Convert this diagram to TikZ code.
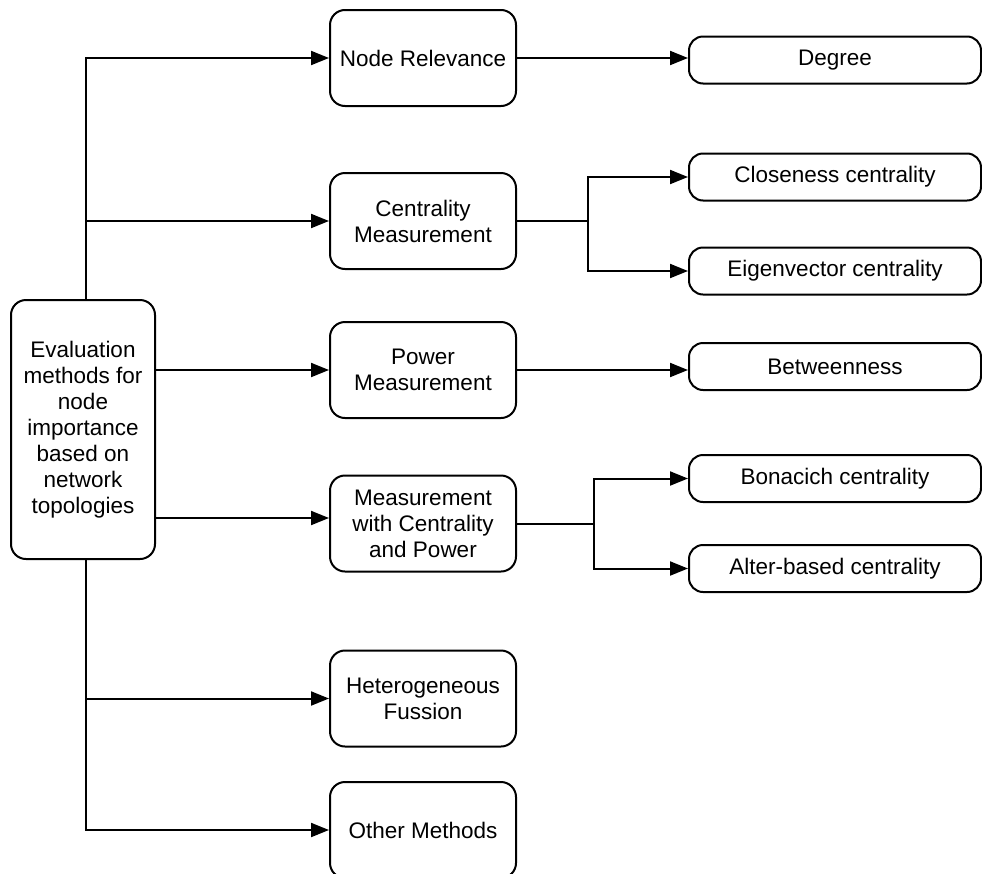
\documentclass[tikz,border=0pt]{standalone}
\usepackage{fontspec}
\setmainfont{Liberation Sans}
\usetikzlibrary{arrows.meta}
\begin{document}
\begin{tikzpicture}[x=1pt,y=-1pt,
  box/.style={draw, rounded corners=15pt, line width=2pt, align=center,
    font=\fontsize{22.5}{26}\selectfont, inner sep=0pt},
  mid/.style={box, minimum width=186pt, minimum height=96pt},
  leaf/.style={box, minimum width=292pt, minimum height=47pt, rounded corners=14pt},
  conn/.style={line width=2pt},
  arr/.style={conn, -{Triangle[length=18pt,width=14pt]}}]
\useasboundingbox (0,0) rectangle (982,873);
% root
\node[box, minimum width=144pt, minimum height=259pt] (L) at (83,429.5)
  {Evaluation\\methods for\\node\\importance\\based on\\network\\topologies};
% middle column
\node[mid] (NR)  at (423,58)    {Node Relevance};
\node[mid] (CM)  at (423,221)   {Centrality\\Measurement};
\node[mid] (PM)  at (423,370)   {Power\\Measurement};
\node[mid] (MCP) at (423,523.5) {Measurement\\with Centrality\\and Power};
\node[mid] (HF)  at (423,698.5) {Heterogeneous\\Fussion};
\node[mid] (OM)  at (423,830)   {Other Methods};
% right column
\node[leaf] (DG) at (835,60)    {Degree};
\node[leaf] (CC) at (835,177)   {Closeness centrality};
\node[leaf] (EV) at (835,271)   {Eigenvector centrality};
\node[leaf] (BT) at (835,366.5) {Betweenness};
\node[leaf] (BO) at (835,478.5) {Bonacich centrality};
\node[leaf] (AB) at (835,568.5) {Alter-based centrality};
% helper coordinates
\coordinate (tx) at (86,0);
\coordinate (m4) at ([yshift=5.5pt]MCP.west);
\coordinate (j1) at (588,221);
\coordinate (j2) at (594,523.5);
% root connectors
\draw[arr] (L.north -| tx) |- (NR.west);
\draw[arr] (tx |- CM.west) -- (CM.west);
\draw[arr] (L.east |- PM.west) -- (PM.west);
\draw[arr] (L.east |- m4) -- (m4);
\draw[arr] (L.south -| tx) |- (OM.west);
\draw[arr] (tx |- HF.west) -- (HF.west);
% right connectors
\draw[arr] (NR.east) -- (NR.east -| DG.west);
\draw[conn] (CM.east) -- (j1);
\draw[arr] (j1) |- (CC.west);
\draw[arr] (j1) |- (EV.west);
\draw[arr] (PM.east) -- (PM.east -| BT.west);
\draw[conn] (MCP.east) -- (j2);
\draw[arr] (j2) |- (BO.west);
\draw[arr] (j2) |- (AB.west);
\end{tikzpicture}
\end{document}
